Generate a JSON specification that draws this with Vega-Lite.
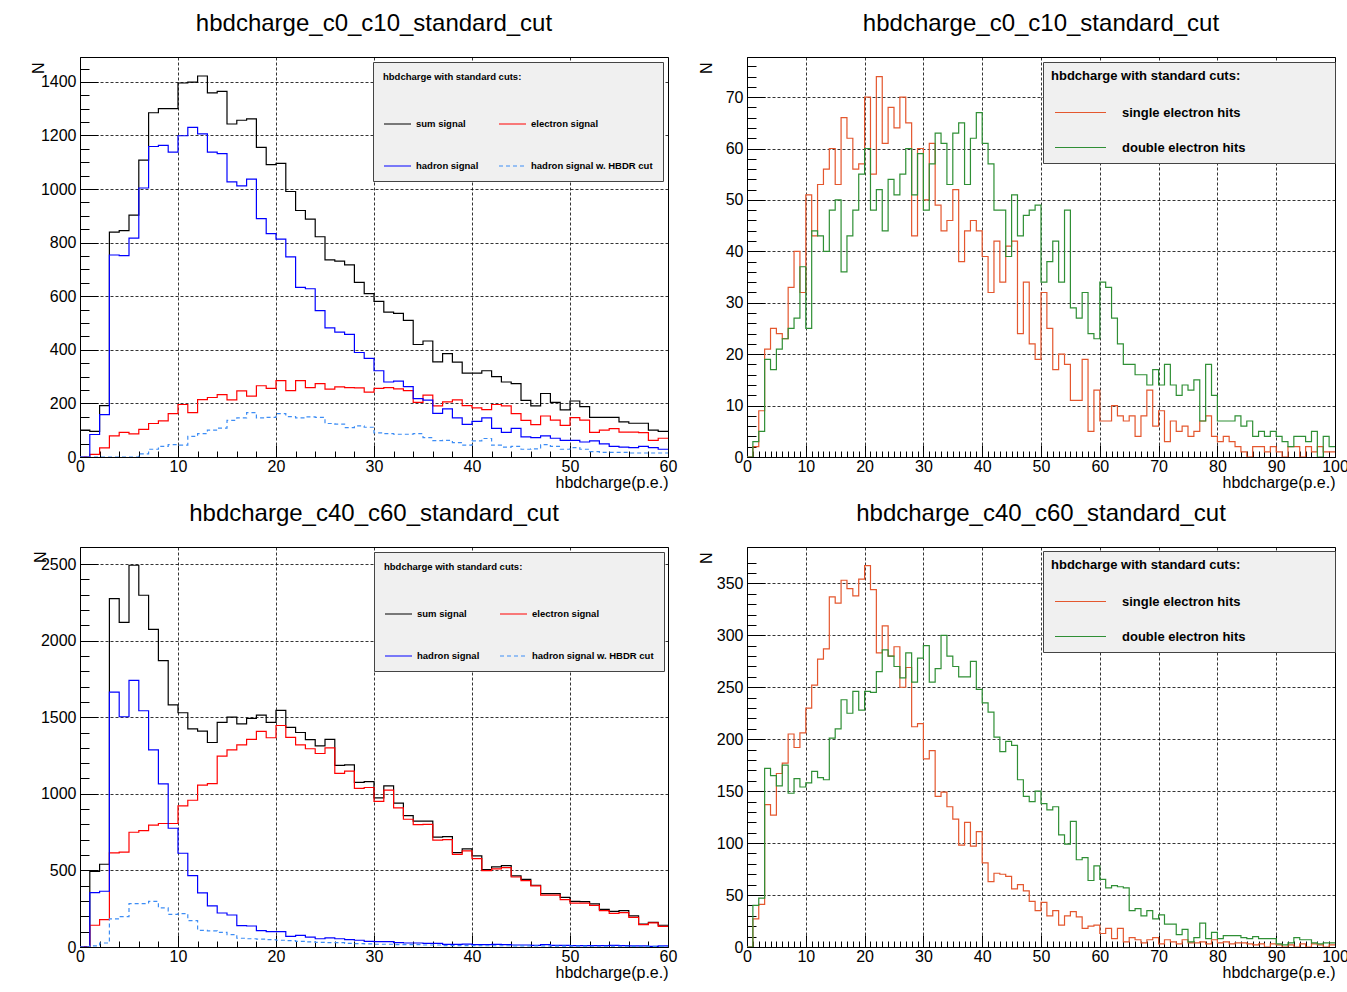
{
  "$schema": "https://vega.github.io/schema/vega-lite/v6.json",
  "background": "white",
  "padding": {"left": 29, "top": 11, "right": 0, "bottom": 2},
  "columns": 2,
  "spacing": {"row": 90, "column": 79},
  "bounds": "flush",
  "resolve": {"scale": {"color": "independent", "strokeDash": "independent"}, "legend": {"color": "independent", "strokeDash": "independent"}},
  "datasets": {
    "p1": [
      {"x":0,"sum":100,"ele":0,"had":0,"hbdr":0},
      {"x":1,"sum":96,"ele":10,"had":84,"hbdr":0},
      {"x":2,"sum":192,"ele":34,"had":158,"hbdr":0},
      {"x":3,"sum":839,"ele":79,"had":754,"hbdr":0},
      {"x":4,"sum":845,"ele":92,"had":752,"hbdr":0},
      {"x":5,"sum":903,"ele":86,"had":817,"hbdr":0},
      {"x":6,"sum":1108,"ele":103,"had":1004,"hbdr":12},
      {"x":7,"sum":1285,"ele":125,"had":1159,"hbdr":29},
      {"x":8,"sum":1300,"ele":135,"had":1163,"hbdr":40},
      {"x":9,"sum":1300,"ele":162,"had":1138,"hbdr":46},
      {"x":10,"sum":1396,"ele":196,"had":1199,"hbdr":44},
      {"x":11,"sum":1399,"ele":166,"had":1230,"hbdr":77},
      {"x":12,"sum":1422,"ele":214,"had":1206,"hbdr":87},
      {"x":13,"sum":1359,"ele":222,"had":1138,"hbdr":100},
      {"x":14,"sum":1365,"ele":233,"had":1132,"hbdr":108},
      {"x":15,"sum":1243,"ele":213,"had":1027,"hbdr":137},
      {"x":16,"sum":1257,"ele":247,"had":1012,"hbdr":146},
      {"x":17,"sum":1262,"ele":227,"had":1037,"hbdr":166},
      {"x":18,"sum":1156,"ele":266,"had":890,"hbdr":146},
      {"x":19,"sum":1091,"ele":256,"had":834,"hbdr":148},
      {"x":20,"sum":1096,"ele":285,"had":813,"hbdr":162},
      {"x":21,"sum":991,"ele":248,"had":747,"hbdr":151},
      {"x":22,"sum":920,"ele":285,"had":633,"hbdr":146},
      {"x":23,"sum":888,"ele":259,"had":628,"hbdr":150},
      {"x":24,"sum":822,"ele":274,"had":546,"hbdr":148},
      {"x":25,"sum":736,"ele":253,"had":482,"hbdr":125},
      {"x":26,"sum":731,"ele":262,"had":466,"hbdr":123},
      {"x":27,"sum":717,"ele":259,"had":458,"hbdr":110},
      {"x":28,"sum":652,"ele":258,"had":390,"hbdr":116},
      {"x":29,"sum":610,"ele":242,"had":368,"hbdr":111},
      {"x":30,"sum":581,"ele":256,"had":322,"hbdr":90},
      {"x":31,"sum":541,"ele":259,"had":280,"hbdr":87},
      {"x":32,"sum":536,"ele":254,"had":283,"hbdr":85},
      {"x":33,"sum":510,"ele":248,"had":263,"hbdr":85},
      {"x":34,"sum":420,"ele":204,"had":218,"hbdr":87},
      {"x":35,"sum":433,"ele":231,"had":212,"hbdr":72},
      {"x":36,"sum":355,"ele":191,"had":163,"hbdr":61},
      {"x":37,"sum":386,"ele":206,"had":180,"hbdr":62},
      {"x":38,"sum":354,"ele":213,"had":146,"hbdr":54},
      {"x":39,"sum":313,"ele":192,"had":122,"hbdr":44},
      {"x":40,"sum":313,"ele":183,"had":133,"hbdr":60},
      {"x":41,"sum":322,"ele":177,"had":146,"hbdr":69},
      {"x":42,"sum":300,"ele":196,"had":107,"hbdr":44},
      {"x":43,"sum":280,"ele":191,"had":92,"hbdr":37},
      {"x":44,"sum":274,"ele":162,"had":107,"hbdr":40},
      {"x":45,"sum":211,"ele":137,"had":75,"hbdr":29},
      {"x":46,"sum":191,"ele":121,"had":72,"hbdr":30},
      {"x":47,"sum":237,"ele":153,"had":79,"hbdr":46},
      {"x":48,"sum":204,"ele":138,"had":70,"hbdr":40},
      {"x":49,"sum":176,"ele":118,"had":62,"hbdr":29},
      {"x":50,"sum":209,"ele":147,"had":62,"hbdr":35},
      {"x":51,"sum":188,"ele":138,"had":56,"hbdr":29},
      {"x":52,"sum":148,"ele":92,"had":60,"hbdr":20},
      {"x":53,"sum":148,"ele":100,"had":49,"hbdr":17},
      {"x":54,"sum":148,"ele":106,"had":40,"hbdr":17},
      {"x":55,"sum":131,"ele":93,"had":37,"hbdr":17},
      {"x":56,"sum":126,"ele":93,"had":35,"hbdr":15},
      {"x":57,"sum":126,"ele":91,"had":40,"hbdr":15},
      {"x":58,"sum":100,"ele":62,"had":35,"hbdr":15},
      {"x":59,"sum":96,"ele":70,"had":29,"hbdr":15},
      {"x":60,"sum":96,"ele":70,"had":29,"hbdr":15}
    ],
    "p3": [
      {"x":0,"sum":0,"ele":0,"had":0,"hbdr":0},
      {"x":1,"sum":494,"ele":142,"had":355,"hbdr":7},
      {"x":2,"sum":540,"ele":179,"had":364,"hbdr":26},
      {"x":3,"sum":2274,"ele":614,"had":1664,"hbdr":183},
      {"x":4,"sum":2119,"ele":619,"had":1503,"hbdr":198},
      {"x":5,"sum":2492,"ele":749,"had":1740,"hbdr":283},
      {"x":6,"sum":2296,"ele":760,"had":1542,"hbdr":283},
      {"x":7,"sum":2073,"ele":795,"had":1287,"hbdr":298},
      {"x":8,"sum":1869,"ele":806,"had":1065,"hbdr":255},
      {"x":9,"sum":1581,"ele":806,"had":775,"hbdr":213},
      {"x":10,"sum":1529,"ele":921,"had":612,"hbdr":218},
      {"x":11,"sum":1424,"ele":958,"had":466,"hbdr":172},
      {"x":12,"sum":1409,"ele":1056,"had":353,"hbdr":109},
      {"x":13,"sum":1335,"ele":1067,"had":268,"hbdr":105},
      {"x":14,"sum":1466,"ele":1246,"had":222,"hbdr":96},
      {"x":15,"sum":1501,"ele":1287,"had":209,"hbdr":81},
      {"x":16,"sum":1457,"ele":1320,"had":139,"hbdr":57},
      {"x":17,"sum":1492,"ele":1355,"had":137,"hbdr":54},
      {"x":18,"sum":1514,"ele":1407,"had":107,"hbdr":52},
      {"x":19,"sum":1466,"ele":1366,"had":100,"hbdr":48},
      {"x":20,"sum":1544,"ele":1446,"had":100,"hbdr":44},
      {"x":21,"sum":1433,"ele":1368,"had":70,"hbdr":42},
      {"x":22,"sum":1400,"ele":1320,"had":76,"hbdr":37},
      {"x":23,"sum":1353,"ele":1294,"had":65,"hbdr":33},
      {"x":24,"sum":1313,"ele":1263,"had":54,"hbdr":30},
      {"x":25,"sum":1355,"ele":1300,"had":59,"hbdr":28},
      {"x":26,"sum":1185,"ele":1133,"had":54,"hbdr":28},
      {"x":27,"sum":1189,"ele":1148,"had":48,"hbdr":24},
      {"x":28,"sum":1074,"ele":1035,"had":44,"hbdr":22},
      {"x":29,"sum":1080,"ele":1041,"had":37,"hbdr":20},
      {"x":30,"sum":974,"ele":950,"had":35,"hbdr":18},
      {"x":31,"sum":1052,"ele":1024,"had":35,"hbdr":18},
      {"x":32,"sum":939,"ele":908,"had":28,"hbdr":15},
      {"x":33,"sum":858,"ele":834,"had":26,"hbdr":15},
      {"x":34,"sum":821,"ele":799,"had":26,"hbdr":15},
      {"x":35,"sum":821,"ele":801,"had":24,"hbdr":13},
      {"x":36,"sum":717,"ele":697,"had":24,"hbdr":13},
      {"x":37,"sum":721,"ele":701,"had":17,"hbdr":9},
      {"x":38,"sum":616,"ele":605,"had":17,"hbdr":9},
      {"x":39,"sum":640,"ele":627,"had":19,"hbdr":9},
      {"x":40,"sum":595,"ele":577,"had":15,"hbdr":9},
      {"x":41,"sum":505,"ele":499,"had":15,"hbdr":8},
      {"x":42,"sum":523,"ele":510,"had":17,"hbdr":8},
      {"x":43,"sum":531,"ele":518,"had":15,"hbdr":8},
      {"x":44,"sum":464,"ele":457,"had":13,"hbdr":7},
      {"x":45,"sum":442,"ele":433,"had":13,"hbdr":7},
      {"x":46,"sum":403,"ele":399,"had":11,"hbdr":7},
      {"x":47,"sum":348,"ele":338,"had":15,"hbdr":7},
      {"x":48,"sum":348,"ele":338,"had":11,"hbdr":6},
      {"x":49,"sum":324,"ele":309,"had":11,"hbdr":6},
      {"x":50,"sum":298,"ele":287,"had":9,"hbdr":6},
      {"x":51,"sum":296,"ele":287,"had":9,"hbdr":6},
      {"x":52,"sum":281,"ele":272,"had":9,"hbdr":5},
      {"x":53,"sum":246,"ele":237,"had":9,"hbdr":5},
      {"x":54,"sum":233,"ele":220,"had":11,"hbdr":5},
      {"x":55,"sum":237,"ele":224,"had":9,"hbdr":5},
      {"x":56,"sum":203,"ele":194,"had":7,"hbdr":4},
      {"x":57,"sum":150,"ele":146,"had":7,"hbdr":4},
      {"x":58,"sum":161,"ele":157,"had":4,"hbdr":4},
      {"x":59,"sum":142,"ele":135,"had":7,"hbdr":4},
      {"x":60,"sum":142,"ele":135,"had":7,"hbdr":4}
    ],
    "p2": [
      {"x":0,"single":0,"double":0},{"x":1,"single":2,"double":3},{"x":2,"single":9,"double":5},{"x":3,"single":21,"double":19},
      {"x":4,"single":25,"double":17},{"x":5,"single":24,"double":21},{"x":6,"single":23,"double":23},{"x":7,"single":33,"double":25},
      {"x":8,"single":40,"double":27},{"x":9,"single":32,"double":37},{"x":10,"single":51,"double":25},{"x":11,"single":43,"double":44},
      {"x":12,"single":53,"double":43},{"x":13,"single":56,"double":40},{"x":14,"single":60,"double":48},{"x":15,"single":53,"double":50},
      {"x":16,"single":66,"double":36},{"x":17,"single":62,"double":43},{"x":18,"single":56,"double":48},{"x":19,"single":57,"double":55},
      {"x":20,"single":70,"double":60},{"x":21,"single":55,"double":48},{"x":22,"single":74,"double":52},{"x":23,"single":61,"double":44},
      {"x":24,"single":68,"double":54},{"x":25,"single":64,"double":51},{"x":26,"single":70,"double":55},{"x":27,"single":65,"double":60},
      {"x":28,"single":43,"double":51},{"x":29,"single":60,"double":59},{"x":30,"single":50,"double":48},{"x":31,"single":61,"double":57},
      {"x":32,"single":49,"double":63},{"x":33,"single":44,"double":61},{"x":34,"single":46,"double":53},{"x":35,"single":52,"double":63},
      {"x":36,"single":38,"double":65},{"x":37,"single":44,"double":53},{"x":38,"single":46,"double":62},{"x":39,"single":44,"double":67},
      {"x":40,"single":39,"double":61},{"x":41,"single":32,"double":57},{"x":42,"single":42,"double":48},{"x":43,"single":34,"double":48},
      {"x":44,"single":41,"double":39},{"x":45,"single":42,"double":51},{"x":46,"single":24,"double":43},{"x":47,"single":34,"double":47},
      {"x":48,"single":22,"double":48},{"x":49,"single":19,"double":49},{"x":50,"single":32,"double":34},{"x":51,"single":25,"double":38},
      {"x":52,"single":17,"double":42},{"x":53,"single":20,"double":34},{"x":54,"single":18,"double":48},{"x":55,"single":11,"double":29},
      {"x":56,"single":11,"double":27},{"x":57,"single":19,"double":32},{"x":58,"single":5,"double":24},{"x":59,"single":13,"double":23},
      {"x":60,"single":7,"double":34},{"x":61,"single":7,"double":33},{"x":62,"single":10,"double":27},{"x":63,"single":8,"double":22},
      {"x":64,"single":7,"double":18},{"x":65,"single":8,"double":18},{"x":66,"single":4,"double":16},{"x":67,"single":8,"double":16},
      {"x":68,"single":13,"double":14},{"x":69,"single":6,"double":17},{"x":70,"single":9,"double":14},{"x":71,"single":3,"double":18},
      {"x":72,"single":7,"double":14},{"x":73,"single":5,"double":12},{"x":74,"single":6,"double":14},{"x":75,"single":4,"double":13},
      {"x":76,"single":5,"double":15},{"x":77,"single":7,"double":7},{"x":78,"single":8,"double":18},{"x":79,"single":4,"double":12},
      {"x":80,"single":3,"double":7},{"x":81,"single":4,"double":7},{"x":82,"single":3,"double":7},{"x":83,"single":2,"double":8},
      {"x":84,"single":1,"double":6},{"x":85,"single":0,"double":7},{"x":86,"single":2,"double":4},{"x":87,"single":2,"double":5},
      {"x":88,"single":1,"double":4},{"x":89,"single":2,"double":5},{"x":90,"single":1,"double":4},{"x":91,"single":0,"double":3},
      {"x":92,"single":2,"double":2},{"x":93,"single":2,"double":4},{"x":94,"single":0,"double":4},{"x":95,"single":2,"double":3},
      {"x":96,"single":1,"double":5},{"x":97,"single":2,"double":0},{"x":98,"single":1,"double":4},{"x":99,"single":1,"double":2},
      {"x":100,"single":1,"double":2}
    ],
    "p4": [
      {"x":0,"single":0,"double":0},{"x":1,"single":27,"double":40},{"x":2,"single":41,"double":47},{"x":3,"single":137,"double":172},
      {"x":4,"single":127,"double":165},{"x":5,"single":167,"double":155},{"x":6,"single":177,"double":175},{"x":7,"single":205,"double":148},
      {"x":8,"single":192,"double":162},{"x":9,"single":206,"double":154},{"x":10,"single":230,"double":158},{"x":11,"single":252,"double":169},
      {"x":12,"single":277,"double":163},{"x":13,"single":287,"double":161},{"x":14,"single":337,"double":201},{"x":15,"single":331,"double":210},
      {"x":16,"single":353,"double":238},{"x":17,"single":345,"double":225},{"x":18,"single":338,"double":246},{"x":19,"single":354,"double":228},
      {"x":20,"single":367,"double":246},{"x":21,"single":344,"double":245},{"x":22,"single":283,"double":265},{"x":23,"single":309,"double":286},
      {"x":24,"single":280,"double":280},{"x":25,"single":289,"double":270},{"x":26,"single":250,"double":259},{"x":27,"single":269,"double":283},
      {"x":28,"single":212,"double":255},{"x":29,"single":215,"double":278},{"x":30,"single":181,"double":290},{"x":31,"single":189,"double":255},
      {"x":32,"single":145,"double":268},{"x":33,"single":149,"double":300},{"x":34,"single":135,"double":280},{"x":35,"single":123,"double":270},
      {"x":36,"single":98,"double":260},{"x":37,"single":120,"double":260},{"x":38,"single":97,"double":275},{"x":39,"single":111,"double":248},
      {"x":40,"single":81,"double":235},{"x":41,"single":63,"double":226},{"x":42,"single":71,"double":202},{"x":43,"single":70,"double":188},
      {"x":44,"single":68,"double":198},{"x":45,"single":56,"double":194},{"x":46,"single":60,"double":161},{"x":47,"single":54,"double":145},
      {"x":48,"single":44,"double":140},{"x":49,"single":35,"double":150},{"x":50,"single":43,"double":138},{"x":51,"single":30,"double":132},
      {"x":52,"single":35,"double":135},{"x":53,"single":21,"double":108},{"x":54,"single":30,"double":99},{"x":55,"single":34,"double":121},
      {"x":56,"single":29,"double":84},{"x":57,"single":18,"double":86},{"x":58,"single":20,"double":64},{"x":59,"single":21,"double":78},
      {"x":60,"single":13,"double":65},{"x":61,"single":18,"double":57},{"x":62,"single":8,"double":59},{"x":63,"single":18,"double":58},
      {"x":64,"single":5,"double":57},{"x":65,"single":9,"double":35},{"x":66,"single":7,"double":37},{"x":67,"single":4,"double":30},
      {"x":68,"single":7,"double":35},{"x":69,"single":9,"double":27},{"x":70,"single":3,"double":31},{"x":71,"single":7,"double":22},
      {"x":72,"single":5,"double":22},{"x":73,"single":3,"double":12},{"x":74,"single":7,"double":17},{"x":75,"single":4,"double":5},
      {"x":76,"single":4,"double":9},{"x":77,"single":5,"double":23},{"x":78,"single":3,"double":8},{"x":79,"single":7,"double":14},
      {"x":80,"single":4,"double":8},{"x":81,"single":5,"double":11},{"x":82,"single":3,"double":11},{"x":83,"single":4,"double":11},
      {"x":84,"single":4,"double":9},{"x":85,"single":3,"double":8},{"x":86,"single":2,"double":10},{"x":87,"single":3,"double":8},
      {"x":88,"single":0,"double":8},{"x":89,"single":3,"double":8},{"x":90,"single":2,"double":3},{"x":91,"single":0,"double":2},
      {"x":92,"single":2,"double":4},{"x":93,"single":0,"double":9},{"x":94,"single":3,"double":7},{"x":95,"single":0,"double":7},
      {"x":96,"single":3,"double":4},{"x":97,"single":2,"double":3},{"x":98,"single":0,"double":4},{"x":99,"single":2,"double":4},
      {"x":100,"single":2,"double":4}
    ]
  },
  "concat": [
    {
      "width": 588, "height": 400,
      "title": {"text": "hbdcharge_c0_c10_standard_cut"},
      "data": {"name": "p1"},
      "transform": [{"fold": ["sum", "ele", "had", "hbdr"], "as": ["series", "N"]}],
      "mark": {"type": "line", "interpolate": "step-after", "strokeWidth": 1.2, "clip": true},
      "encoding": {
        "x": {"field": "x", "type": "quantitative", "scale": {"domain": [0, 60], "nice": false, "zero": false},
          "axis": {"values": [0,2,4,6,8,10,12,14,16,18,20,22,24,26,28,30,32,34,36,38,40,42,44,46,48,50,52,54,56,58,60],
            "format": "d",
            "tickSize": {"condition": {"test": "datum.value % 10 === 0", "value": -12}, "value": -6},
            "labelExpr": "datum.value % 10 === 0 ? datum.label : ''",
            "gridOpacity": {"condition": {"test": "datum.value % 10 === 0", "value": 1}, "value": 0},
            "labelPadding": 13, "title": "hbdcharge(p.e.)", "titleAnchor": "end", "titleAlign": "right", "titleBaseline": "alphabetic", "titleY": 30}},
        "y": {"field": "N", "type": "quantitative", "scale": {"domain": [0, 1493], "nice": false},
          "axis": {"values": [0,50,100,150,200,250,300,350,400,450,500,550,600,650,700,750,800,850,900,950,1000,1050,1100,1150,1200,1250,1300,1350,1400,1450],
            "format": "d",
            "tickSize": {"condition": {"test": "datum.value % 200 === 0", "value": -18}, "value": -9},
            "labelExpr": "datum.value % 200 === 0 ? datum.label : ''",
            "gridOpacity": {"condition": {"test": "datum.value % 200 === 0", "value": 1}, "value": 0},
            "labelPadding": 22, "title": "N", "titleAngle": 270, "titleAlign": "right", "titleBaseline": "alphabetic", "titleX": -37, "titleY": 5}},
        "color": {"field": "series", "type": "nominal",
          "scale": {"domain": ["sum", "had", "ele", "hbdr"], "range": ["#000000", "#0000ff", "#ff0000", "#3d8df5"]},
          "legend": {"orient": "none", "legendX": 293, "legendY": 5, "columns": 2, "title": "hbdcharge with standard cuts:",
            "labelExpr": "{'sum': 'sum signal', 'ele': 'electron signal', 'had': 'hadron signal', 'hbdr': 'hadron signal w. HBDR cut'}[datum.label]",
            "padding": 10, "titlePadding": 28, "rowPadding": 23, "columnPadding": 17, "symbolSize": 729, "labelOffset": 4, "symbolOffset": 0,
            "labelFontSize": 9.5, "titleFontSize": 9.5}},
        "strokeDash": {"field": "series", "type": "nominal",
          "scale": {"domain": ["sum", "had", "ele", "hbdr"], "range": [[1, 0], [1, 0], [1, 0], [4, 3]]},
          "legend": {"orient": "none", "legendX": 293, "legendY": 5, "columns": 2, "title": "hbdcharge with standard cuts:",
            "labelExpr": "{'sum': 'sum signal', 'ele': 'electron signal', 'had': 'hadron signal', 'hbdr': 'hadron signal w. HBDR cut'}[datum.label]",
            "padding": 10, "titlePadding": 28, "rowPadding": 23, "columnPadding": 17, "symbolSize": 729, "labelOffset": 4, "symbolOffset": 0,
            "labelFontSize": 9.5, "titleFontSize": 9.5}}
      }
    },
    {
      "width": 588, "height": 400,
      "title": {"text": "hbdcharge_c0_c10_standard_cut"},
      "data": {"name": "p2"},
      "transform": [{"fold": ["single", "double"], "as": ["series", "N"]}],
      "mark": {"type": "line", "interpolate": "step-after", "strokeWidth": 1.2, "clip": true},
      "encoding": {
        "x": {"field": "x", "type": "quantitative", "scale": {"domain": [0, 100], "nice": false, "zero": false},
          "axis": {"values": [0,1,2,3,4,5,6,7,8,9,10,11,12,13,14,15,16,17,18,19,20,21,22,23,24,25,26,27,28,29,30,31,32,33,34,35,36,37,38,39,40,41,42,43,44,45,46,47,48,49,50,51,52,53,54,55,56,57,58,59,60,61,62,63,64,65,66,67,68,69,70,71,72,73,74,75,76,77,78,79,80,81,82,83,84,85,86,87,88,89,90,91,92,93,94,95,96,97,98,99,100],
            "format": "d",
            "tickSize": {"condition": {"test": "datum.value % 10 === 0", "value": -12}, "value": -6},
            "labelExpr": "datum.value % 10 === 0 ? datum.label : ''",
            "gridOpacity": {"condition": {"test": "datum.value % 10 === 0", "value": 1}, "value": 0},
            "labelPadding": 13, "title": "hbdcharge(p.e.)", "titleAnchor": "end", "titleAlign": "right", "titleBaseline": "alphabetic", "titleY": 30}},
        "y": {"field": "N", "type": "quantitative", "scale": {"domain": [0, 77.8], "nice": false},
          "axis": {"values": [0,2,4,6,8,10,12,14,16,18,20,22,24,26,28,30,32,34,36,38,40,42,44,46,48,50,52,54,56,58,60,62,64,66,68,70,72,74,76],
            "format": "d",
            "tickSize": {"condition": {"test": "datum.value % 10 === 0", "value": -18}, "value": -9},
            "labelExpr": "datum.value % 10 === 0 ? datum.label : ''",
            "gridOpacity": {"condition": {"test": "datum.value % 10 === 0", "value": 1}, "value": 0},
            "labelPadding": 22, "title": "N", "titleAngle": 270, "titleAlign": "right", "titleBaseline": "alphabetic", "titleX": -36, "titleY": 5}},
        "color": {"field": "series", "type": "nominal",
          "scale": {"domain": ["single", "double"], "range": ["#e4572e", "#2f8f35"]},
          "legend": {"orient": "none", "legendX": 296, "legendY": 5, "columns": 1, "title": "hbdcharge with standard cuts:\u00a0\u00a0\u00a0\u00a0\u00a0\u00a0\u00a0\u00a0\u00a0\u00a0\u00a0\u00a0\u00a0\u00a0\u00a0\u00a0\u00a0\u00a0\u00a0\u00a0\u00a0\u00a0\u00a0\u00a0\u200b",
            "labelExpr": "datum.label === 'single' ? 'single electron hits' : 'double electron hits'",
            "padding": 8, "titlePadding": 3, "rowPadding": 1, "symbolSize": 2601, "labelOffset": 15, "symbolOffset": 3,
            "labelFontSize": 13, "titleFontSize": 13}}
      }
    },
    {
      "width": 588, "height": 400,
      "title": {"text": "hbdcharge_c40_c60_standard_cut"},
      "data": {"name": "p3"},
      "transform": [{"fold": ["sum", "ele", "had", "hbdr"], "as": ["series", "N"]}],
      "mark": {"type": "line", "interpolate": "step-after", "strokeWidth": 1.2, "clip": true},
      "encoding": {
        "x": {"field": "x", "type": "quantitative", "scale": {"domain": [0, 60], "nice": false, "zero": false},
          "axis": {"values": [0,2,4,6,8,10,12,14,16,18,20,22,24,26,28,30,32,34,36,38,40,42,44,46,48,50,52,54,56,58,60],
            "format": "d",
            "tickSize": {"condition": {"test": "datum.value % 10 === 0", "value": -12}, "value": -6},
            "labelExpr": "datum.value % 10 === 0 ? datum.label : ''",
            "gridOpacity": {"condition": {"test": "datum.value % 10 === 0", "value": 1}, "value": 0},
            "labelPadding": 13, "title": "hbdcharge(p.e.)", "titleAnchor": "end", "titleAlign": "right", "titleBaseline": "alphabetic", "titleY": 30}},
        "y": {"field": "N", "type": "quantitative", "scale": {"domain": [0, 2611], "nice": false},
          "axis": {"values": [0,100,200,300,400,500,600,700,800,900,1000,1100,1200,1300,1400,1500,1600,1700,1800,1900,2000,2100,2200,2300,2400,2500],
            "format": "d",
            "tickSize": {"condition": {"test": "datum.value % 500 === 0", "value": -18}, "value": -9},
            "labelExpr": "datum.value % 500 === 0 ? datum.label : ''",
            "gridOpacity": {"condition": {"test": "datum.value % 500 === 0", "value": 1}, "value": 0},
            "labelPadding": 22, "title": "N", "titleAngle": 270, "titleAlign": "right", "titleBaseline": "alphabetic", "titleX": -35, "titleY": 4}},
        "color": {"field": "series", "type": "nominal",
          "scale": {"domain": ["sum", "had", "ele", "hbdr"], "range": ["#000000", "#0000ff", "#ff0000", "#3d8df5"]},
          "legend": {"orient": "none", "legendX": 294, "legendY": 5, "columns": 2, "title": "hbdcharge with standard cuts:",
            "labelExpr": "{'sum': 'sum signal', 'ele': 'electron signal', 'had': 'hadron signal', 'hbdr': 'hadron signal w. HBDR cut'}[datum.label]",
            "padding": 10, "titlePadding": 28, "rowPadding": 23, "columnPadding": 17, "symbolSize": 729, "labelOffset": 4, "symbolOffset": 0,
            "labelFontSize": 9.5, "titleFontSize": 9.5}},
        "strokeDash": {"field": "series", "type": "nominal",
          "scale": {"domain": ["sum", "had", "ele", "hbdr"], "range": [[1, 0], [1, 0], [1, 0], [4, 3]]},
          "legend": {"orient": "none", "legendX": 294, "legendY": 5, "columns": 2, "title": "hbdcharge with standard cuts:",
            "labelExpr": "{'sum': 'sum signal', 'ele': 'electron signal', 'had': 'hadron signal', 'hbdr': 'hadron signal w. HBDR cut'}[datum.label]",
            "padding": 10, "titlePadding": 28, "rowPadding": 23, "columnPadding": 17, "symbolSize": 729, "labelOffset": 4, "symbolOffset": 0,
            "labelFontSize": 9.5, "titleFontSize": 9.5}}
      }
    },
    {
      "width": 588, "height": 400,
      "title": {"text": "hbdcharge_c40_c60_standard_cut"},
      "data": {"name": "p4"},
      "transform": [{"fold": ["single", "double"], "as": ["series", "N"]}],
      "mark": {"type": "line", "interpolate": "step-after", "strokeWidth": 1.2, "clip": true},
      "encoding": {
        "x": {"field": "x", "type": "quantitative", "scale": {"domain": [0, 100], "nice": false, "zero": false},
          "axis": {"values": [0,1,2,3,4,5,6,7,8,9,10,11,12,13,14,15,16,17,18,19,20,21,22,23,24,25,26,27,28,29,30,31,32,33,34,35,36,37,38,39,40,41,42,43,44,45,46,47,48,49,50,51,52,53,54,55,56,57,58,59,60,61,62,63,64,65,66,67,68,69,70,71,72,73,74,75,76,77,78,79,80,81,82,83,84,85,86,87,88,89,90,91,92,93,94,95,96,97,98,99,100],
            "format": "d",
            "tickSize": {"condition": {"test": "datum.value % 10 === 0", "value": -12}, "value": -6},
            "labelExpr": "datum.value % 10 === 0 ? datum.label : ''",
            "gridOpacity": {"condition": {"test": "datum.value % 10 === 0", "value": 1}, "value": 0},
            "labelPadding": 13, "title": "hbdcharge(p.e.)", "titleAnchor": "end", "titleAlign": "right", "titleBaseline": "alphabetic", "titleY": 30}},
        "y": {"field": "N", "type": "quantitative", "scale": {"domain": [0, 385], "nice": false},
          "axis": {"values": [0,10,20,30,40,50,60,70,80,90,100,110,120,130,140,150,160,170,180,190,200,210,220,230,240,250,260,270,280,290,300,310,320,330,340,350,360,370],
            "format": "d",
            "tickSize": {"condition": {"test": "datum.value % 50 === 0", "value": -18}, "value": -9},
            "labelExpr": "datum.value % 50 === 0 ? datum.label : ''",
            "gridOpacity": {"condition": {"test": "datum.value % 50 === 0", "value": 1}, "value": 0},
            "labelPadding": 22, "title": "N", "titleAngle": 270, "titleAlign": "right", "titleBaseline": "alphabetic", "titleX": -36, "titleY": 5}},
        "color": {"field": "series", "type": "nominal",
          "scale": {"domain": ["single", "double"], "range": ["#e4572e", "#2f8f35"]},
          "legend": {"orient": "none", "legendX": 296, "legendY": 4, "columns": 1, "title": "hbdcharge with standard cuts:\u00a0\u00a0\u00a0\u00a0\u00a0\u00a0\u00a0\u00a0\u00a0\u00a0\u00a0\u00a0\u00a0\u00a0\u00a0\u00a0\u00a0\u00a0\u00a0\u00a0\u00a0\u00a0\u00a0\u00a0\u200b",
            "labelExpr": "datum.label === 'single' ? 'single electron hits' : 'double electron hits'",
            "padding": 8, "titlePadding": 3, "rowPadding": 1, "symbolSize": 2601, "labelOffset": 15, "symbolOffset": 3,
            "labelFontSize": 13, "titleFontSize": 13}}
      }
    }
  ],
  "config": {
    "font": "Liberation Sans",
    "view": {"stroke": "#000000", "strokeWidth": 1},
    "title": {"fontSize": 24, "fontWeight": "normal", "font": "Liberation Sans", "anchor": "middle", "baseline": "alphabetic", "offset": 21, "color": "#000000"},
    "axis": {
      "labelFont": "Liberation Sans", "labelFontSize": 16, "labelColor": "#000000",
      "titleFont": "Liberation Sans", "titleFontSize": 16, "titleFontWeight": "normal", "titleColor": "#000000",
      "domainColor": "#000000", "tickColor": "#000000", "tickWidth": 1,
      "grid": true, "gridColor": "#000000", "gridDash": [3, 2], "gridWidth": 0.8,
      "labelOverlap": false, "labelFlush": false
    },
    "legend": {
      "symbolType": "stroke", "symbolStrokeWidth": 1.2,
      "fillColor": "#f0f0f0", "strokeColor": "#444444",
      "labelFont": "Liberation Sans", "labelFontWeight": "bold", "labelColor": "#000000",
      "titleFont": "Liberation Sans", "titleFontWeight": "bold", "titleColor": "#000000",
      "labelLimit": 300, "titleLimit": 400
    }
  }
}
